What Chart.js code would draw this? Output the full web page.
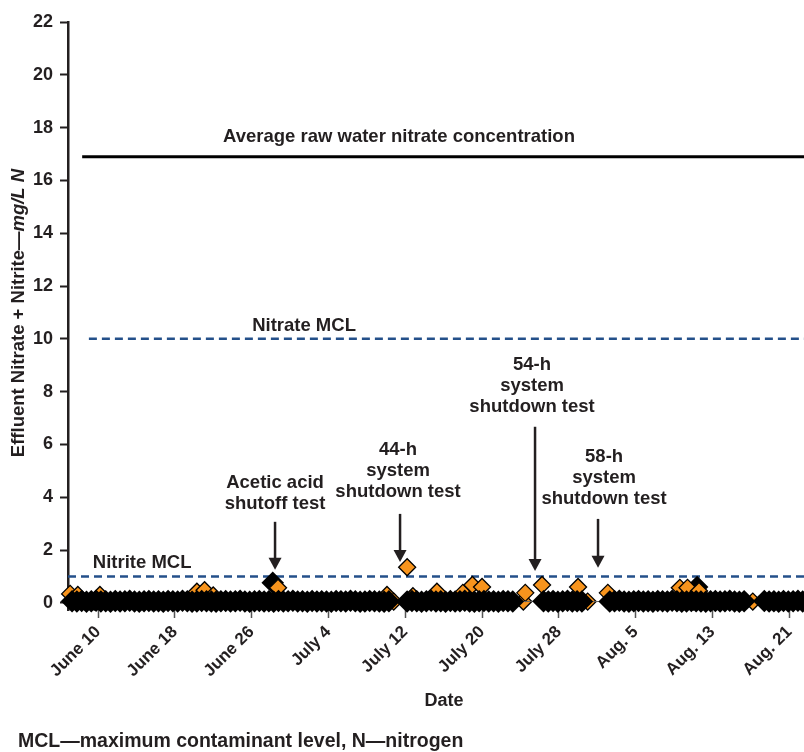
<!DOCTYPE html>
<html>
<head>
<meta charset="utf-8">
<script src="https://cdn.jsdelivr.net/npm/chart.js@4.4.1/dist/chart.umd.min.js"></script>
<style>
  html, body { margin: 0; padding: 0; background: #fff; overflow: hidden; }
  #wrap { width: 820px; height: 752px; }
</style>
</head>
<body>
<div id="wrap"><canvas id="chart" width="820" height="752"></canvas></div>
<script>
// days counted from May 31 (June 1 = 1)
const tickDays = [10, 18, 26, 34, 42, 50, 58, 66, 74, 82];
const tickLabels = ["June 10", "June 18", "June 26", "July 4", "July 12", "July 20", "July 28", "Aug. 5", "Aug. 13", "Aug. 21"];
const yTicks = [0, 2, 4, 6, 8, 10, 12, 14, 16, 18, 20, 22];

// nitrite (black) — readings every half day, in segments
const blackStep = 0.5;
const segStarts = [7.3, 42.2, 56.4, 63.3, 79.4];
const segA = [0.06,0.05,0.07,0.04,0.06,0.08,0.05,0.06,0.04,0.07,
  0.05,0.06,0.08,0.05,0.04,0.06,0.07,0.05,0.06,0.04,
  0.07,0.06,0.05,0.08,0.06,0.04,0.05,0.07,0.06,0.05,
  0.04,0.06,0.07,0.05,0.06,0.08,0.05,0.04,0.06,0.07,
  0.05,0.06,0.04,0.07,0.05,0.06,0.08,0.05,0.06,0.04,
  0.07,0.05,0.06,0.05,0.04,0.07,0.06,0.05,0.08,0.06,
  0.04,0.05,0.07,0.06,0.05,0.04,0.06];
const segB = [0.05,0.07,0.06,0.04,0.06,0.08,0.05,0.06,0.04,0.07,0.05,0.06,0.08,0.05,0.04,0.06,0.07,0.05,0.06,0.04,0.07,0.06,0.05];
const segC = [0.06,0.05,0.07,0.04,0.06,0.08,0.05,0.06,0.05];
const segD = [0.05,0.06,0.08,0.05,0.04,0.06,0.07,0.05,0.06,0.04,0.07,0.06,0.05,0.08,0.06,0.04,0.05,0.07,0.06,0.05,0.04,0.06,0.07,0.05,0.06,0.08,0.05,0.04,0.06];
const segE = [0.07,0.05,0.06,0.04,0.07,0.05,0.06,0.08,0.05,0.06,0.04,0.07,0.05];
const blackPeakDays = [28.2, 72.4];
const blackPeakVals = [0.76, 0.6];

// nitrate + nitrite (orange)
const orangeDays = [7.1, 7.9, 9.6, 10.2, 20.3, 21.1, 22.0, 27.9, 28.75, 40.1, 40.8, 42.2, 42.8, 45.3, 47.7, 48.0, 49.0, 50.0, 54.3, 54.5, 56.25, 60.0, 61.0, 63.1, 70.6, 71.4, 72.0, 72.6, 78.2, 83.3];
const orangeVals = [0.34, 0.3, 0.05, 0.3, 0.42, 0.48, 0.28, 0.05, 0.57, 0.3, 0.05, 1.35, 0.25, 0.42, 0.05, 0.38, 0.68, 0.6, 0.05, 0.38, 0.68, 0.6, 0.05, 0.38, 0.57, 0.57, 0.05, 0.45, 0.05, 0.05];

// reference lines
const refNames = ["Average raw water nitrate concentration", "Nitrate MCL", "Nitrite MCL"];
const refValues = [16.9, 10, 1];
const refStarts = [8.35, 9.05, 6.875];

const X_MIN = 6.875, X_MAX = 85.2, Y_MIN = -0.27, Y_MAX = 22;
const INK = "#231f20";
const BLUE = "#24508a";
const FONT = '"Liberation Sans", Arial, Helvetica, sans-serif';

// label and arrow placement (data units)
const refLabelPos = [[41.35, 17.65], [31.46, 10.5], [14.6, 1.52]];
const notes = [
  { lines: ["Acetic acid", "shutoff test"], x: 28.44, y: 4.55, ax: 28.44, from: 3.07, to: 1.25 },
  { lines: ["44-h", "system", "shutdown test"], x: 41.25, y: 5.8, ax: 41.46, from: 3.37, to: 1.55 },
  { lines: ["54-h", "system", "shutdown test"], x: 55.21, y: 9.02, ax: 55.52, from: 6.67, to: 1.21 },
  { lines: ["58-h", "system", "shutdown test"], x: 62.71, y: 5.53, ax: 62.08, from: 3.18, to: 1.33 }
];

Chart.defaults.font.family = FONT;

const segs = [segA, segB, segC, segD, segE];
const blackPoints = [];
segs.forEach((vals, s) => {
  vals.forEach((v, i) => blackPoints.push({ x: segStarts[s] + i * blackStep, y: v }));
});

// a jump longer than one reading is a shutdown gap: thin grey join
const isGap = (ctx) => ctx.p1.parsed.x - ctx.p0.parsed.x > blackStep * 1.5;

const refLineSets = refValues.map((v, i) => ({
  label: refNames[i],
  data: [{ x: refStarts[i], y: v }, { x: X_MAX, y: v }],
  showLine: true,
  borderColor: i === 0 ? "#000" : BLUE,
  borderWidth: i === 0 ? 3 : 2.5,
  borderDash: i === 0 ? [] : [8, 5],
  pointRadius: 0
}));

const notesPlugin = {
  id: "notes",
  afterDatasetsDraw(chart) {
    const { ctx, scales: { x, y } } = chart;
    ctx.save();
    ctx.fillStyle = INK;
    ctx.strokeStyle = INK;
    ctx.textAlign = "center";
    ctx.textBaseline = "middle";
    ctx.font = "bold 18.5px " + FONT;
    refLabelPos.forEach((p, i) => {
      ctx.fillText(refNames[i], x.getPixelForValue(p[0]), y.getPixelForValue(p[1]));
    });
    for (const n of notes) {
      const tx = x.getPixelForValue(n.x);
      const ty = y.getPixelForValue(n.y);
      n.lines.forEach((t, i) => ctx.fillText(t, tx, ty + i * 21));
      const ax = x.getPixelForValue(n.ax);
      const y0 = y.getPixelForValue(n.from);
      const y1 = y.getPixelForValue(n.to);
      ctx.lineWidth = 2.5;
      ctx.beginPath();
      ctx.moveTo(ax, y0);
      ctx.lineTo(ax, y1 - 10);
      ctx.stroke();
      ctx.beginPath();
      ctx.moveTo(ax - 6.5, y1 - 12);
      ctx.lineTo(ax + 6.5, y1 - 12);
      ctx.lineTo(ax, y1);
      ctx.closePath();
      ctx.fill();
    }
    ctx.restore();
  },
  afterDraw(chart) {
    const { ctx } = chart;
    ctx.save();
    ctx.fillStyle = INK;
    ctx.textBaseline = "middle";
    // y axis title, plain + italic part
    const partA = "Effluent Nitrate + Nitrite\u2014";
    const partB = "mg/L N";
    ctx.translate(19, 313);
    ctx.rotate(-Math.PI / 2);
    ctx.font = "bold 18.5px " + FONT;
    const wA = ctx.measureText(partA).width;
    ctx.font = "italic bold 18.5px " + FONT;
    const wB = ctx.measureText(partB).width;
    const start = -(wA + wB) / 2;
    ctx.textAlign = "left";
    ctx.font = "bold 18.5px " + FONT;
    ctx.fillText(partA, start, 0);
    ctx.font = "italic bold 18.5px " + FONT;
    ctx.fillText(partB, start + wA, 0);
    ctx.restore();

    ctx.save();
    ctx.fillStyle = INK;
    ctx.textBaseline = "middle";
    ctx.textAlign = "left";
    ctx.font = "bold 19.5px " + FONT;
    ctx.fillText("MCL\u2014maximum contaminant level, N\u2014nitrogen", 18, 742);
    ctx.restore();
  }
};

new Chart(document.getElementById("chart"), {
  type: "scatter",
  data: {
    datasets: [
      {
        label: "Nitrite",
        data: blackPoints,
        showLine: true,
        borderColor: "#000",
        borderWidth: 13,
        segment: {
          borderWidth: (ctx) => (isGap(ctx) ? 1 : 13),
          borderColor: (ctx) => (isGap(ctx) ? "#666" : "#000")
        },
        pointStyle: "rectRot",
        pointRadius: 11.3,
        pointBackgroundColor: "#000",
        pointBorderWidth: 0,
        clip: false
      },
      {
        label: "Nitrate + nitrite",
        data: orangeDays.map((d, i) => ({ x: d, y: orangeVals[i] })),
        pointStyle: "rectRot",
        pointRadius: 8.5,
        pointBackgroundColor: "#f7941d",
        pointBorderColor: "#000",
        pointBorderWidth: 1.3,
        clip: false
      },
      {
        label: "Nitrite peaks",
        data: blackPeakDays.map((d, i) => ({ x: d, y: blackPeakVals[i] })),
        pointStyle: "rectRot",
        pointRadius: 11.3,
        pointBackgroundColor: "#000",
        pointBorderWidth: 0
      },
      ...refLineSets
    ]
  },
  options: {
    responsive: false,
    animation: false,
    layout: { autoPadding: false, padding: { top: 22, left: 0, right: 0, bottom: 40 } },
    plugins: { legend: { display: false }, tooltip: { enabled: false } },
    scales: {
      x: {
        type: "linear",
        min: X_MIN,
        max: X_MAX,
        afterBuildTicks: (s) => { s.ticks = tickDays.map((v) => ({ value: v })); },
        afterFit: (s) => { s.height = 102; s.paddingLeft = 0; s.paddingRight = 0; },
        ticks: {
          autoSkip: false,
          minRotation: 45,
          maxRotation: 45,
          padding: 4,
          color: INK,
          font: { size: 17, weight: "bold" },
          callback: (v, i) => tickLabels[i]
        },
        grid: { drawOnChartArea: false, drawTicks: true, tickLength: 8, color: "#555", tickWidth: 1.5 },
        border: { display: false },
        title: { display: true, text: "Date", color: INK, font: { size: 18, weight: "bold" }, padding: 0 }
      },
      y: {
        min: Y_MIN,
        max: Y_MAX,
        afterBuildTicks: (s) => { s.ticks = yTicks.map((v) => ({ value: v })); },
        afterFit: (s) => { s.width = 68; },
        ticks: { color: INK, padding: 7, font: { size: 18, weight: "bold" } },
        grid: { drawOnChartArea: false, drawTicks: true, tickLength: 8, color: INK, tickWidth: 2 },
        border: { display: true, color: INK, width: 2.5 }
      }
    }
  },
  plugins: [notesPlugin]
});
</script>
</body>
</html>
